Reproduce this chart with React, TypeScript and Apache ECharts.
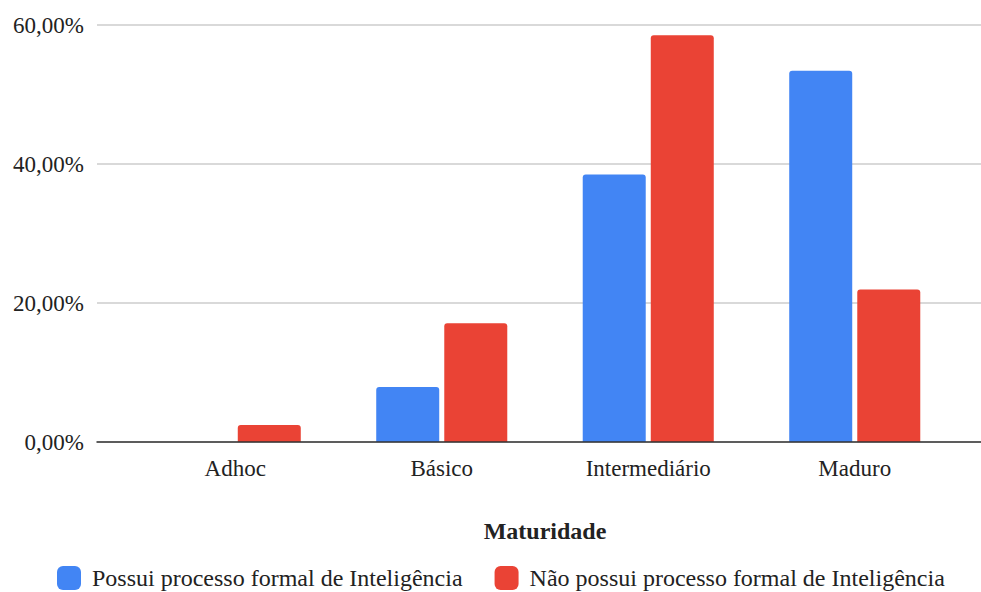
import React, { useEffect, useRef } from "react";
import * as echarts from "echarts";

const categories = ["Adhoc", "Básico", "Intermediário", "Maduro"];
const seriesNames = [
  "Possui processo formal de Inteligência",
  "Não possui processo formal de Inteligência",
];
const possuiValues = [0, 7.9, 38.5, 53.4];
const naoPossuiValues = [2.44, 17.07, 58.54, 21.95];
const yTicks = { min: 0, max: 60, interval: 20 };

const FONT = '"Liberation Serif", "DejaVu Serif", serif';
const TEXT = "#222222";
const BLUE = "#4285F4";
const RED = "#EA4335";

const fmtPct = (v: number) => v.toFixed(2).replace(".", ",") + "%";

export default function App() {
  const ref = useRef<HTMLDivElement>(null);

  useEffect(() => {
    if (!ref.current) return;
    const chart = echarts.init(ref.current, null, { renderer: "svg" });
    chart.setOption({
      animation: false,
      backgroundColor: "#ffffff",
      textStyle: { fontFamily: FONT },
      legend: {
        left: 52,
        top: 561,
        itemWidth: 24,
        itemHeight: 24,
        itemGap: 32,
        icon: "roundRect",
        textStyle: {
          fontFamily: FONT,
          fontSize: 24,
          lineHeight: 24,
          color: TEXT,
          padding: [0, 0, 0, 6],
        },
        data: seriesNames,
      },
      grid: [
        { left: 97, right: 0, top: 25, bottom: 150 },
        { left: 132, right: 23, top: 25, bottom: 150 },
      ],
      xAxis: [
        {
          gridIndex: 0,
          type: "category",
          data: categories,
          axisLine: { show: true, lineStyle: { color: "#333333", width: 1.5 } },
          axisTick: { show: false },
          axisLabel: { show: false },
          z: 10,
        },
        {
          gridIndex: 1,
          type: "category",
          data: categories,
          axisLine: { show: false },
          axisTick: { show: false },
          axisLabel: {
            fontFamily: FONT,
            fontSize: 23,
            color: TEXT,
            margin: 15,
          },
          name: "Maturidade",
          nameLocation: "middle",
          nameGap: 77,
          nameTextStyle: {
            fontFamily: FONT,
            fontSize: 24,
            fontWeight: "bold",
            color: TEXT,
          },
        },
      ],
      yAxis: [
        {
          gridIndex: 0,
          type: "value",
          min: yTicks.min,
          max: yTicks.max,
          interval: yTicks.interval,
          axisLine: { show: false },
          axisTick: { show: false },
          splitLine: { lineStyle: { color: "#cccccc", width: 1.5 } },
          axisLabel: {
            fontFamily: FONT,
            fontSize: 23,
            color: TEXT,
            margin: 13,
            formatter: (v: number) => fmtPct(v),
          },
        },
        {
          gridIndex: 1,
          type: "value",
          min: yTicks.min,
          max: yTicks.max,
          interval: yTicks.interval,
          show: false,
          splitLine: { show: false },
        },
      ],
      series: [
        {
          name: seriesNames[0],
          type: "bar",
          xAxisIndex: 1,
          yAxisIndex: 1,
          data: possuiValues,
          barWidth: 63,
          barGap: "8%",
          itemStyle: { color: BLUE, borderRadius: [3, 3, 0, 0] },
        },
        {
          name: seriesNames[1],
          type: "bar",
          xAxisIndex: 1,
          yAxisIndex: 1,
          data: naoPossuiValues,
          barWidth: 63,
          barGap: "8%",
          itemStyle: { color: RED, borderRadius: [3, 3, 0, 0] },
        },
      ],
    });
    return () => chart.dispose();
  }, []);

  return (
    <div
      ref={ref}
      style={{ width: 981, height: 592, position: "absolute", left: 0, top: 0 }}
    />
  );
}
